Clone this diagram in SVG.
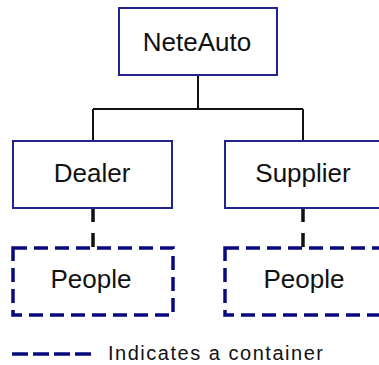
<svg xmlns="http://www.w3.org/2000/svg" width="379" height="365" viewBox="0 0 379 365">
<style>
.box{fill:#fff;stroke:#23238f;stroke-width:2}
.cont{fill:#fff;stroke:#0a0a80;stroke-width:3.5;stroke-dasharray:14 7}
.lbl{font-family:"Liberation Sans",Arial,sans-serif;font-size:26px;fill:#111;text-anchor:middle}
.conn{fill:none;stroke:#111;stroke-width:2}
.dconn{fill:none;stroke:#111;stroke-width:3.5;stroke-dasharray:14 11}
</style>
<rect width="379" height="365" fill="#fff"/>
<g id="connectors">
<path class="conn" d="M198 75V109M93 109H303M93 109V141M303 109V141"/>
<path class="dconn" d="M93 208V248M303 208V248"/>
</g>
<g id="neteauto"><rect class="box" x="119" y="8" width="158" height="67"/><text class="lbl" x="197" y="51">NeteAuto</text></g>
<g id="dealer"><rect class="box" x="13" y="141" width="159" height="67"/><text class="lbl" x="92" y="182">Dealer</text></g>
<g id="supplier"><rect class="box" x="225" y="141" width="160" height="67"/><text class="lbl" x="303" y="182">Supplier</text></g>
<g id="people1"><rect class="cont" x="13" y="248" width="160" height="67"/><text class="lbl" x="91" y="288">People</text></g>
<g id="people2"><rect class="cont" x="225" y="248" width="160" height="67"/><text class="lbl" x="304" y="288">People</text></g>
<g id="legend">
<line x1="12" y1="354" x2="93" y2="354" stroke="#0a0a80" stroke-width="3.5" stroke-dasharray="16 5"/>
<text x="108" y="360" font-family="'Liberation Sans',Arial,sans-serif" font-size="20" fill="#111" textLength="215" lengthAdjust="spacing">Indicates a container</text>
</g>
</svg>
